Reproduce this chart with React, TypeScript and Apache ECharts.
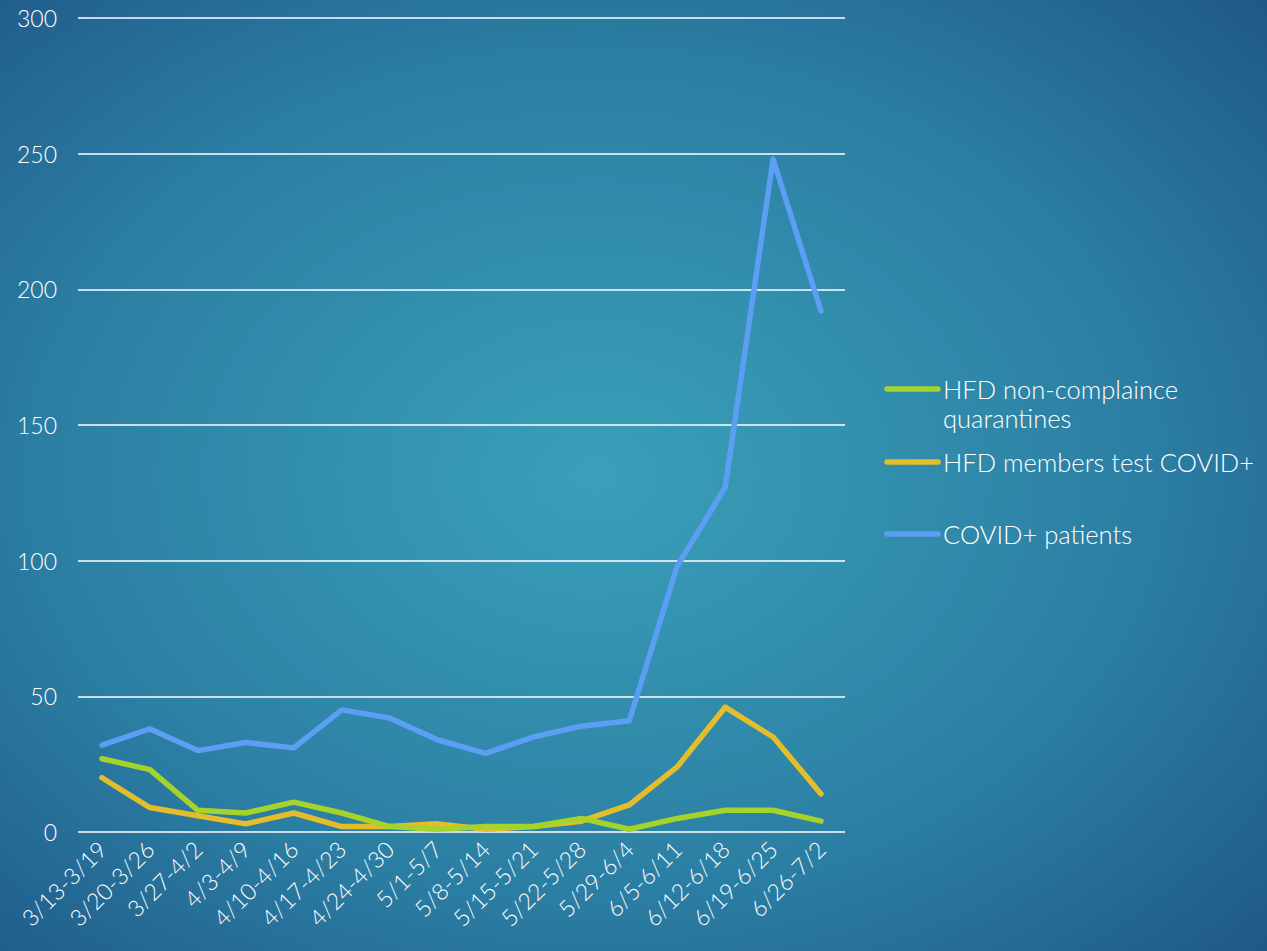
import React, { useEffect, useRef } from "react";
import * as echarts from "echarts";

const categories = [
  "3/13-3/19", "3/20-3/26", "3/27-4/2", "4/3-4/9", "4/10-4/16", "4/17-4/23",
  "4/24-4/30", "5/1-5/7", "5/8-5/14", "5/15-5/21", "5/22-5/28", "5/29-6/4",
  "6/5-6/11", "6/12-6/18", "6/19-6/25", "6/26-7/2",
];
const nonCompliance = [27, 23, 8, 7, 11, 7, 2, 1, 2, 2, 5, 1, 5, 8, 8, 4];
const membersPositive = [20, 9, 6, 3, 7, 2, 2, 3, 1, 2, 4, 10, 24, 46, 35, 14];
const patients = [32, 38, 30, 33, 31, 45, 42, 34, 29, 35, 39, 41, 98, 127, 248, 192];
const seriesNames = ["HFD non-complaince quarantines", "HFD members test COVID+", "COVID+ patients"];
const legendLabels = ["HFD non-complaince\nquarantines", "HFD members test COVID+", "COVID+ patients"];
const colors = ["#a6d22c", "#e5bd2b", "#5b9ef4"];
const yTicks = { min: 0, max: 300, interval: 50 };

const FONT = "Lato, 'Open Sans', sans-serif";

export default function App() {
  const ref = useRef<HTMLDivElement>(null);
  useEffect(() => {
    if (!ref.current) return;
    const chart = echarts.init(ref.current, null, { renderer: "svg" });
    const data = [nonCompliance, membersPositive, patients];
    const legendTops = [374, 447, 519];
    chart.setOption({
      animation: false,
      backgroundColor: new echarts.graphic.RadialGradient(0.47, 0.5, 0.8, [
        { offset: 0, color: "#3aa0b9" },
        { offset: 0.55, color: "#2b7ea3" },
        { offset: 1, color: "#1c4f82" },
      ]),
      textStyle: { fontFamily: FONT },
      grid: { left: 78, right: 422, top: 18, bottom: 119, containLabel: false },
      xAxis: {
        type: "category",
        data: categories,
        boundaryGap: true,
        axisLine: { show: false },
        axisTick: { show: false },
        axisLabel: { color: "#ffffff", fontSize: 23, fontWeight: 300, rotate: 45, margin: 13, interval: 0, fontFamily: FONT },
      },
      yAxis: {
        type: "value",
        min: yTicks.min,
        max: yTicks.max,
        interval: yTicks.interval,
        axisLine: { show: false },
        axisTick: { show: false },
        axisLabel: { color: "#ffffff", fontSize: 23, fontWeight: 300, margin: 21, fontFamily: FONT },
        splitLine: { lineStyle: { color: "#ffffff", width: 1.5 } },
      },
      series: data.map((d, i) => ({
        name: seriesNames[i],
        type: "line",
        data: d,
        symbol: "none",
        lineStyle: { color: colors[i], width: 5.5, cap: "round", join: "round" },
        itemStyle: { color: colors[i] },
        z: 3 + (i === 2 ? 0 : 2 - i),
      })),
      graphic: legendLabels.flatMap((label, i) => [
        {
          type: "line",
          shape: { x1: 887, y1: legendTops[i] + 15, x2: 938, y2: legendTops[i] + 15 },
          style: { stroke: colors[i], lineWidth: 5.5, lineCap: "round" },
        },
        {
          type: "text",
          x: 943,
          y: legendTops[i],
          style: {
            text: label,
            fill: "#ffffff",
            font: `300 25.5px ${FONT}`,
            lineHeight: 29,
            textVerticalAlign: "top",
          },
        },
      ]),
    });
    return () => chart.dispose();
  }, []);
  return (
    <div
      ref={ref}
      style={{ position: "absolute", left: 0, top: 0, width: 1267, height: 951 }}
    />
  );
}
